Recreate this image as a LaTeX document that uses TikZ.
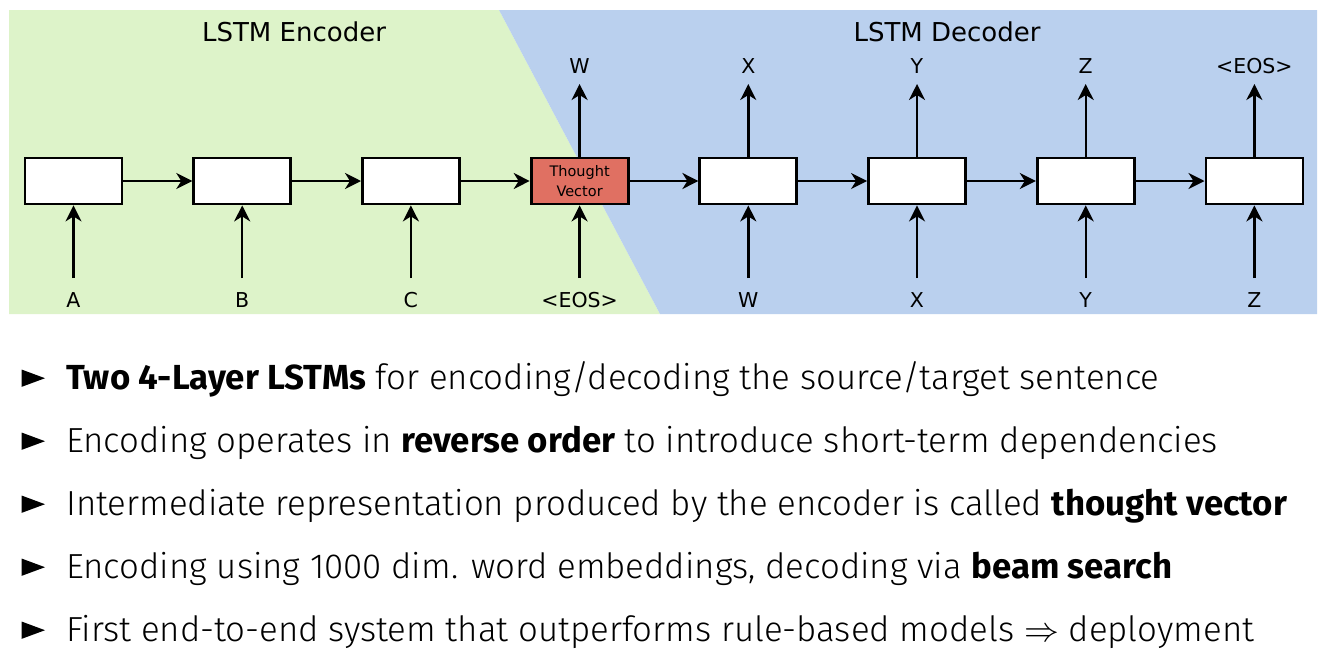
\documentclass[tikz,border=0pt]{standalone}
\usepackage{fontspec}
\usepackage{graphicx}
\setmainfont{Fira Sans}[UprightFont={* Light},BoldFont={* Bold}]
\newfontfamily\diagfont{DejaVu Sans}
\usetikzlibrary{arrows.meta}
\definecolor{encgreen}{RGB}{221,243,201}
\definecolor{decblue}{RGB}{186,208,238}
\definecolor{tvred}{RGB}{224,112,98}
\tikzset{
  cell/.style={draw=black,line width=2.8pt,fill=white,minimum width=97pt,minimum height=46pt,inner sep=0pt},
  tvcell/.style={cell,fill=tvred},
  conn/.style={line width=2.4pt,-{Stealth[length=16pt,width=16pt,inset=5pt]}},
  lbl/.style={font=\diagfont\fontsize{20.5}{24}\selectfont,inner sep=0pt,anchor=center},
  ttl/.style={font=\diagfont\fontsize{26}{30}\selectfont,inner sep=0pt,anchor=center},
  bullettext/.style={font=\fontsize{34.8}{40}\selectfont,inner sep=0pt,anchor=base west},
}
\begin{document}
\begin{tikzpicture}[x=1pt,y=-1pt]
\useasboundingbox (0,0) rectangle (1328,659);
% backgrounds
\fill[encgreen] (9,10) -- (499,10) -- (660,314) -- (9,314) -- cycle;
\fill[decblue] (499,10) -- (1317,10) -- (1317,314) -- (660,314) -- cycle;
% titles
\node[ttl] (tenc) at (294,32) {LSTM Encoder};
\node[ttl] (tdec) at (947,32) {LSTM Decoder};
% cells
\node[cell] (c1) at (73.5,181) {};
\node[cell] (c2) at (242.2,181) {};
\node[cell] (c3) at (410.9,181) {};
\node[tvcell,align=center,font=\diagfont\fontsize{14.5}{20}\selectfont] (c4) at (579.6,181) {Thought\\Vector};
\node[cell] (c5) at (748.3,181) {};
\node[cell] (c6) at (917,181) {};
\node[cell] (c7) at (1085.7,181) {};
\node[cell] (c8) at (1254.4,181) {};
% horizontal connectors
\foreach \a/\b in {c1/c2,c2/c3,c3/c4,c4/c5,c5/c6,c6/c7,c7/c8}
  \draw[conn] (\a.east) -- (\b.west);
% inputs
\foreach \i/\t in {1/A,2/B,3/C,4/{<EOS>},5/W,6/X,7/Y,8/Z}{
  \coordinate (in\i) at (c\i.center |- 0,278);
  \node[lbl] (inl\i) at (c\i.center |- 0,300) {\t};
  \draw[conn] (in\i) -- (c\i.south);
}
% outputs
\foreach \i/\t in {4/W,5/X,6/Y,7/Z,8/{<EOS>}}{
  \coordinate (out\i) at (c\i.center |- 0,84);
  \node[lbl] (outl\i) at (c\i.center |- 0,66) {\t};
  \draw[conn] (c\i.north) -- (out\i);
}
% bullets
\foreach \b in {389.5,452.5,515.5,578.5,641.5}
  \fill (21.5,\b-20) -- (45,\b-11.3) -- (21.5,\b-2.6) -- cycle;
\node[bullettext] (l1) at (66,389.5) {\textbf{Two 4-Layer LSTMs} for encoding/decoding the source/target sentence};
\node[bullettext] (l2) at (66,452.5) {Encoding operates in \textbf{reverse order} to introduce short-term dependencies};
\node[bullettext] (l3) at (66,515.5) {Intermediate representation produced by the encoder is called \textbf{thought vector}};
\node[bullettext] (l4) at (66,578.5) {Encoding using 1000 dim. word embeddings, decoding via \textbf{beam search}};
\node[bullettext] (l5) at (66,641.5) {First end-to-end system that outperforms rule-based models \scalebox{1.4}{$\Rightarrow$} deployment};
\end{tikzpicture}
\end{document}
